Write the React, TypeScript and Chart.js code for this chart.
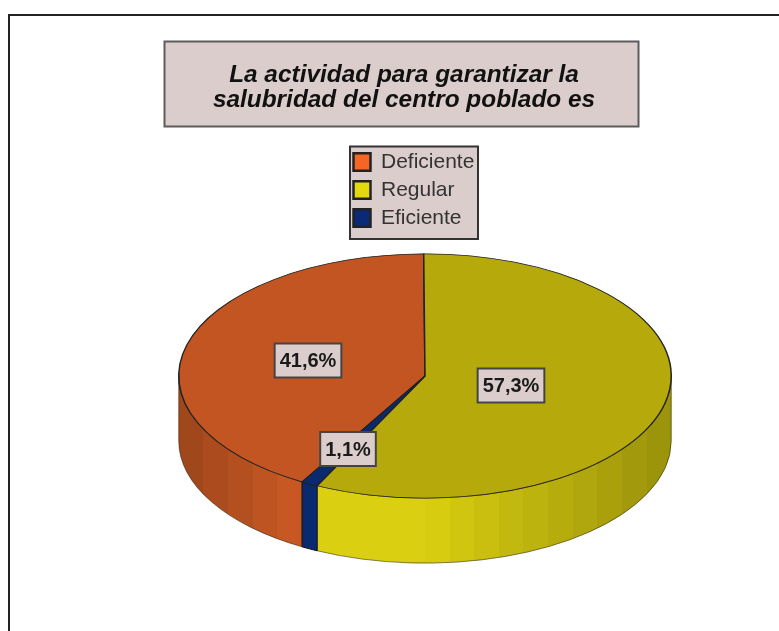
import React, { useEffect, useRef } from "react";
import { Chart, registerables } from "chart.js";

Chart.register(...registerables);

// ---- data ----
const categories = ["Deficiente", "Regular", "Eficiente"];
const shares = [41.6, 57.3, 1.1];
const titleLines = ["La actividad para garantizar la", "salubridad del centro poblado es"];

// ---- style ----
const topColors = ["#C35522", "#B5A90C", "#0A2A70"];
const legendColors = ["#F46526", "#E3D90E", "#0A2A78"];
const wallColors = [
  [206, 91, 36],
  [218, 207, 16],
  [10, 42, 112],
];
const panelFill = "#DCCDCD";
const FONT = "'Liberation Sans', Arial, sans-serif";
const PIE_CENTER_Y = 376;
const SQUASH = 122.5 / 247;
const DEPTH = 65;
const labelOffsets = [
  [-117, -15.5],
  [86, 9.5],
  [-77, 73],
];

function shadeAt(t: number) {
  // t runs 0..1 across the pie's width
  if (t < 0.26) return 0.76 + (0.24 * t) / 0.26;
  if (t < 0.5) return 1;
  return 1 - ((t - 0.5) / 0.5) * 0.3;
}

function wallGradient(ctx: CanvasRenderingContext2D, cx: number, r: number, rgb: number[]) {
  const g = ctx.createLinearGradient(cx - r, 0, cx + r, 0);
  const bands = 20;
  for (let i = 0; i < bands; i++) {
    const s = shadeAt((i + 0.5) / bands);
    const col = `rgb(${rgb.map((c) => Math.round(c * s)).join(",")})`;
    g.addColorStop(i / bands, col);
    g.addColorStop((i + 1) / bands, col);
  }
  return g;
}

const pie3d = {
  id: "pie3d",
  beforeDraw(chart: any) {
    const { ctx } = chart;
    ctx.save();
    ctx.fillStyle = "#fff";
    ctx.fillRect(0, 0, chart.width, chart.height);
    // outer frame
    ctx.strokeStyle = "#222";
    ctx.lineWidth = 2;
    ctx.beginPath();
    ctx.moveTo(9, chart.height);
    ctx.lineTo(9, 15);
    ctx.lineTo(chart.width, 15);
    ctx.stroke();
    // title panel
    ctx.fillStyle = panelFill;
    ctx.fillRect(164.5, 41.5, 474, 85);
    ctx.strokeStyle = "#5c5c5c";
    ctx.strokeRect(164.5, 41.5, 474, 85);
    // legend panel
    ctx.fillRect(350, 146.5, 128, 92.5);
    ctx.strokeStyle = "#333";
    ctx.strokeRect(350, 146.5, 128, 92.5);
    ctx.restore();
  },
  afterLayout(chart: any) {
    const t = chart.titleBlock;
    t.left = 167;
    t.right = 641;
    t.top = 62.5;
    t.bottom = 112.5;
    const l = chart.legend;
    l.left = 346.5;
    l.right = 346.5 + l.width;
    l.top = 144.5;
    l.bottom = 144.5 + l.height;
  },
  beforeDatasetsDraw(chart: any) {
    const { ctx } = chart;
    const arcs = chart.getDatasetMeta(0).data;
    const cx = arcs[0].x;
    const cy = arcs[0].y;
    const r = arcs[0].outerRadius;
    const ry = r * SQUASH;
    const y0 = PIE_CENTER_Y;
    ctx.save();
    arcs.forEach((arc: any, i: number) => {
      [0, Math.PI * 2].forEach((off) => {
        const a0 = Math.max(arc.startAngle + Math.PI * 2, off);
        const a1 = Math.min(arc.endAngle + Math.PI * 2, off + Math.PI);
        if (a1 <= a0) return;
        ctx.beginPath();
        ctx.ellipse(cx, y0, r, ry, 0, a0, a1);
        ctx.ellipse(cx, y0 + DEPTH, r, ry, 0, a1, a0, true);
        ctx.closePath();
        ctx.fillStyle = wallGradient(ctx, cx, r, wallColors[i]);
        ctx.fill();
        ctx.strokeStyle = i === 2 ? "#111" : "rgba(40,30,0,0.55)";
        ctx.lineWidth = 1;
        ctx.stroke();
      });
    });
    ctx.restore();
    ctx.save();
    ctx.translate(cx, y0);
    ctx.scale(1, SQUASH);
    ctx.translate(-cx, -cy);
  },
  afterDatasetsDraw(chart: any) {
    const { ctx } = chart;
    ctx.restore();
    const arcs = chart.getDatasetMeta(0).data;
    const cx = arcs[0].x;
    ctx.save();
    ctx.font = `bold 20px ${FONT}`;
    ctx.textAlign = "center";
    ctx.textBaseline = "middle";
    shares.forEach((v, i) => {
      const text = v.toFixed(1).replace(".", ",") + "%";
      const w = ctx.measureText(text).width + 10;
      const h = 34;
      const x = cx + labelOffsets[i][0];
      const y = PIE_CENTER_Y + labelOffsets[i][1];
      ctx.fillStyle = panelFill;
      ctx.fillRect(x - w / 2, y - h / 2, w, h);
      ctx.strokeStyle = "#444";
      ctx.lineWidth = 2;
      ctx.strokeRect(x - w / 2, y - h / 2, w, h);
      ctx.fillStyle = "#1a1a1a";
      ctx.fillText(text, x, y + 1);
    });
    ctx.restore();
  },
};

export default function App() {
  const ref = useRef<HTMLCanvasElement | null>(null);
  useEffect(() => {
    const chart = new Chart(ref.current as HTMLCanvasElement, {
      type: "pie",
      data: {
        labels: categories,
        datasets: [
          {
            data: shares,
            backgroundColor: topColors,
            borderColor: "#222",
            borderWidth: 1.5,
            clip: false,
          } as any,
        ],
      },
      plugins: [pie3d],
      options: {
        responsive: false,
        animation: false,
        rotation: -(41.6 * 3.6) - 0.3,
        layout: { padding: { left: 178, right: 107, top: 0, bottom: 0 } },
        plugins: {
          tooltip: { enabled: false },
          title: {
            display: true,
            text: titleLines,
            color: "#111",
            padding: 0,
            font: { family: FONT, size: 24.4, weight: "bold", style: "italic", lineHeight: 25 / 24.4 },
          },
          legend: {
            display: true,
            position: "chartArea",
            align: "start",
            labels: {
              boxWidth: 17,
              boxHeight: 17.5,
              padding: 7,
              color: "#333",
              font: { family: FONT, size: 21, lineHeight: 1 },
              generateLabels: () =>
                categories.map((text, i) => ({
                  text,
                  fillStyle: legendColors[i],
                  strokeStyle: "#222",
                  lineWidth: 2.5,
                  hidden: false,
                  index: i,
                  fontColor: "#333",
                })),
            },
          },
        },
      } as any,
    });
    return () => chart.destroy();
  }, []);
  return (
    <div style={{ position: "absolute", left: 0, top: 0, width: 779, height: 631, overflow: "hidden" }}>
      <canvas ref={ref} width={779} height={631} style={{ display: "block", filter: "blur(0.45px)" }} />
    </div>
  );
}
